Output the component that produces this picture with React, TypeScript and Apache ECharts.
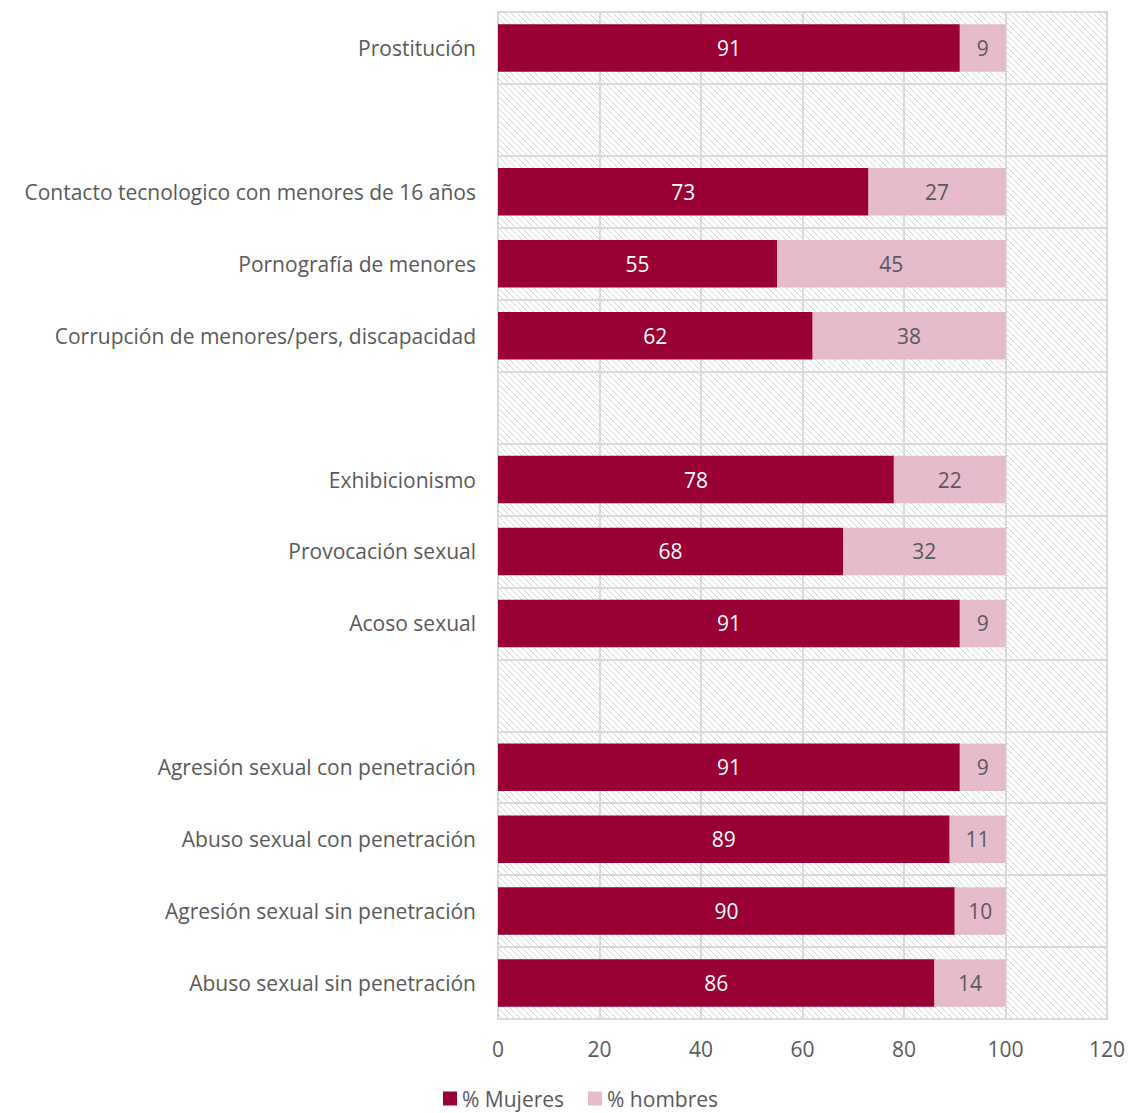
import React, { useEffect, useRef } from "react";
import * as echarts from "echarts";

const categories = [
  "Prostitución",
  " ",
  "Contacto tecnologico con menores de 16 años",
  "Pornografía de menores",
  "Corrupción de menores/pers, discapacidad",
  "  ",
  "Exhibicionismo",
  "Provocación sexual",
  "Acoso sexual",
  "   ",
  "Agresión sexual con penetración",
  "Abuso sexual con penetración",
  "Agresión sexual sin penetración",
  "Abuso sexual sin penetración",
];
const mujeres = [91, null, 73, 55, 62, null, 78, 68, 91, null, 91, 89, 90, 86];
const hombres = [9, null, 27, 45, 38, null, 22, 32, 9, null, 9, 11, 10, 14];
const xTicks = { min: 0, max: 120, interval: 20 };

const FONT = "'Open Sans', Lato, sans-serif";
const TEXT = "#595959";
const FS = 21;
const GRID = { left: 498, top: 12, width: 609, height: 1007 };

function makeHatch() {
  const s = 6;
  const c = document.createElement("canvas");
  c.width = s;
  c.height = s;
  const ctx = c.getContext("2d")!;
  ctx.fillStyle = "#ffffff";
  ctx.fillRect(0, 0, s, s);
  ctx.strokeStyle = "#d4d4d4";
  ctx.lineWidth = 1;
  for (let k = -1; k <= 1; k++) {
    ctx.beginPath();
    ctx.moveTo(k * s, 0);
    ctx.lineTo(k * s + s, s);
    ctx.stroke();
  }
  return c;
}

export default function App() {
  const ref = useRef<HTMLDivElement>(null);
  useEffect(() => {
    document.body.style.margin = "0";
    const chart = echarts.init(ref.current!, null, { renderer: "svg" });
    const hatch = makeHatch();
    chart.setOption({
      animation: false,
      backgroundColor: "#ffffff",
      textStyle: { fontFamily: FONT },
      graphic: [
        {
          type: "rect",
          z: -1,
          shape: { x: GRID.left, y: GRID.top, width: GRID.width, height: GRID.height },
          style: {
            fill: { image: hatch, repeat: "repeat", imageWidth: 6, imageHeight: 6 } as any,
          },
          silent: true,
        },
      ],
      grid: {
        left: GRID.left,
        top: GRID.top,
        width: GRID.width,
        height: GRID.height,
        show: true,
        borderColor: "#d9d9d9",
        borderWidth: 2,
        backgroundColor: "transparent",
      },
      legend: {
        left: 438,
        top: 1083,
        icon: "rect",
        itemWidth: 14,
        itemHeight: 14,
        itemGap: 24,
        itemTextGap: 5,
        textStyle: { fontSize: FS, color: TEXT, fontFamily: FONT },
        data: ["% Mujeres", "% hombres"],
      },
      xAxis: {
        type: "value",
        min: xTicks.min,
        max: xTicks.max,
        interval: xTicks.interval,
        axisLine: { show: false },
        axisTick: { show: false },
        axisLabel: { fontSize: FS, color: TEXT, margin: 19, fontFamily: FONT },
        splitLine: { show: true, lineStyle: { color: "#d9d9d9", width: 2 } },
      },
      yAxis: {
        type: "category",
        inverse: true,
        data: categories,
        axisLine: { show: false },
        axisTick: { show: false },
        axisLabel: { fontSize: FS, color: TEXT, margin: 22, fontFamily: FONT },
        splitLine: { show: true, lineStyle: { color: "#d9d9d9", width: 2 } },
      },
      series: [
        {
          name: "% Mujeres",
          type: "bar",
          stack: "total",
          barCategoryGap: "34%",
          data: mujeres,
          itemStyle: { color: "#990033" },
          label: {
            show: true,
            position: "inside",
            color: "#ffffff",
            fontSize: FS,
            fontFamily: FONT,
          },
        },
        {
          name: "% hombres",
          type: "bar",
          stack: "total",
          barCategoryGap: "34%",
          data: hombres,
          itemStyle: { color: "#e6bccd" },
          label: {
            show: true,
            position: "inside",
            color: TEXT,
            fontSize: FS,
            fontFamily: FONT,
          },
        },
      ],
    });
    return () => chart.dispose();
  }, []);
  return <div ref={ref} style={{ width: 1129, height: 1113 }} />;
}
